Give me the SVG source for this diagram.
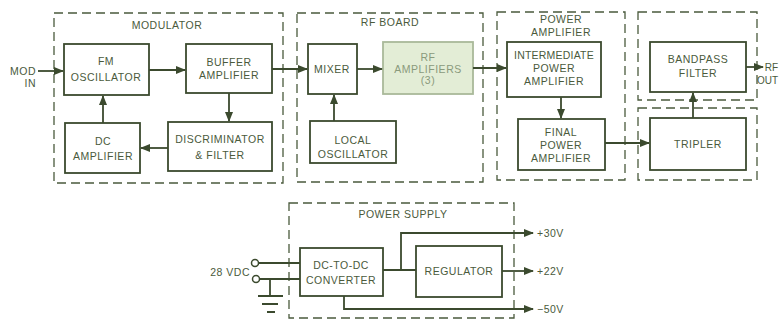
<svg xmlns="http://www.w3.org/2000/svg" width="779" height="320" viewBox="0 0 779 320">
<style>
.bg{fill:#ffffff}
.grp{fill:none;stroke:#4a5a3c;stroke-width:1.3;stroke-dasharray:9 5}
.box{fill:#ffffff;stroke:#3b4a2e;stroke-width:1.8}
.shade{fill:#e3edd6;stroke:#a9b99a;stroke-width:1.8}
.ln{fill:none;stroke:#3b4a2e;stroke-width:1.8}
.arr{fill:none;stroke:#3b4a2e;stroke-width:1.8;marker-end:url(#ah)}
text{font-family:"Liberation Sans","DejaVu Sans",sans-serif;font-size:10.5px;fill:#4a5a3c;letter-spacing:0.5px;text-anchor:middle;dominant-baseline:central}
.lt{fill:#8a9a7c}
.st{text-anchor:start}
.en{text-anchor:end}
.sm{letter-spacing:0.2px}
.tiny{font-size:10px;letter-spacing:0px}
</style>
<defs>
<marker id="ah" viewBox="0 0 10 8" refX="9" refY="4" markerWidth="10" markerHeight="8" markerUnits="userSpaceOnUse" orient="auto">
<path d="M0,0 L10,4 L0,8 Z" fill="#3b4a2e"/>
</marker>
</defs>
<rect class="bg" x="0" y="0" width="779" height="320"/>

<g id="modulator">
<rect class="grp" x="54" y="13" width="229" height="170"/>
<text x="167" y="25">MODULATOR</text>
</g>
<g id="fm-oscillator">
<rect class="box" x="64" y="44" width="85" height="51"/>
<text x="106" y="61">FM</text>
<text x="106" y="77">OSCILLATOR</text>
</g>
<g id="buffer-amplifier">
<rect class="box" x="186" y="44" width="86" height="49"/>
<text x="229" y="62">BUFFER</text>
<text x="229" y="75">AMPLIFIER</text>
</g>
<g id="dc-amplifier">
<rect class="box" x="65" y="123" width="75" height="50"/>
<text x="103" y="141">DC</text>
<text x="103" y="156">AMPLIFIER</text>
</g>
<g id="discriminator">
<rect class="box" x="168" y="122" width="104" height="49"/>
<text x="220" y="139">DISCRIMINATOR</text>
<text x="220" y="155">&amp; FILTER</text>
</g>

<g id="rf-board">
<rect class="grp" x="297" y="13" width="186" height="169"/>
<text x="390" y="22">RF BOARD</text>
</g>
<g id="mixer">
<rect class="box" x="308" y="44" width="49" height="50"/>
<text x="332" y="69">MIXER</text>
</g>
<g id="rf-amplifiers">
<rect class="shade" x="383" y="42" width="90" height="52"/>
<text class="lt" x="428" y="57">RF</text>
<text class="lt" x="428" y="69">AMPLIFIERS</text>
<text class="lt" x="428" y="80">(3)</text>
</g>
<g id="local-oscillator">
<rect class="box" x="310" y="121" width="86" height="42"/>
<text x="353" y="140">LOCAL</text>
<text x="353" y="154">OSCILLATOR</text>
</g>

<g id="power-amplifier">
<rect class="grp" x="497" y="12" width="128" height="168"/>
<text x="561" y="19">POWER</text>
<text x="561" y="32">AMPLIFIER</text>
</g>
<g id="intermediate-pa">
<rect class="box" x="507" y="42" width="94" height="55"/>
<text class="sm" x="554" y="55">INTERMEDIATE</text>
<text x="554" y="68">POWER</text>
<text x="554" y="81">AMPLIFIER</text>
</g>
<g id="final-pa">
<rect class="box" x="518" y="119" width="87" height="51"/>
<text x="561" y="132">FINAL</text>
<text x="561" y="145">POWER</text>
<text x="561" y="158">AMPLIFIER</text>
</g>

<g id="filter-group">
<rect class="grp" x="638" y="12" width="119" height="88"/>
</g>
<g id="tripler-group">
<rect class="grp" x="638" y="108" width="119" height="72"/>
</g>
<g id="bandpass-filter">
<rect class="box" x="650" y="42" width="96" height="50"/>
<text x="698" y="59">BANDPASS</text>
<text x="698" y="73">FILTER</text>
</g>
<g id="tripler">
<rect class="box" x="650" y="118" width="96" height="52"/>
<text x="698" y="144">TRIPLER</text>
</g>

<g id="power-supply">
<rect class="grp" x="289" y="203" width="225" height="115"/>
<text x="403" y="214">POWER SUPPLY</text>
</g>
<g id="converter">
<rect class="box" x="300" y="248" width="83" height="48"/>
<text x="341" y="265">DC-TO-DC</text>
<text x="341" y="280">CONVERTER</text>
</g>
<g id="regulator">
<rect class="box" x="416" y="246" width="86" height="51"/>
<text x="459" y="271">REGULATOR</text>
</g>

<g id="terminals">
<text class="en" x="36" y="71">MOD</text>
<text class="en" x="36" y="83">IN</text>
<text class="en tiny" x="778" y="67">RF</text>
<text class="en tiny" x="778" y="80">OUT</text>
<text class="st" x="537" y="233">+30V</text>
<text class="st" x="537" y="271">+22V</text>
<text class="st" x="537" y="309">−50V</text>
<text class="en" x="250" y="272">28 VDC</text>
<circle cx="255" cy="263" r="3.5" fill="#ffffff" stroke="#3b4a2e" stroke-width="1.5"/>
<circle cx="256" cy="279" r="3.5" fill="#ffffff" stroke="#3b4a2e" stroke-width="1.5"/>
</g>

<g id="connectors">
<path class="arr" d="M38,71 H63"/>
<path class="arr" d="M149,70 H185"/>
<path class="arr" d="M229,93 V121"/>
<path class="arr" d="M168,148 H141"/>
<path class="arr" d="M103,123 V96"/>
<path class="arr" d="M272,69 H307"/>
<path class="arr" d="M357,69 H382"/>
<path class="arr" d="M334,121 V95"/>
<path class="arr" d="M473,68 H506"/>
<path class="arr" d="M561,97 V118"/>
<path class="arr" d="M605,143 H649"/>
<path class="arr" d="M693,118 V93"/>
<path class="arr" d="M746,67 H763"/>
<path class="ln" d="M258.5,263 H300"/>
<path class="ln" d="M259.5,279 H300"/>
<path class="ln" d="M270,279 V296"/>
<path class="ln" d="M258,296 H283 M262,304 H278 M267,312 H275"/>
<path class="ln" d="M383,270 H416"/>
<path class="arr" d="M401,270 V233 H533"/>
<path class="arr" d="M502,271 H533"/>
<path class="arr" d="M344,296 V309 H533"/>
</g>
</svg>
